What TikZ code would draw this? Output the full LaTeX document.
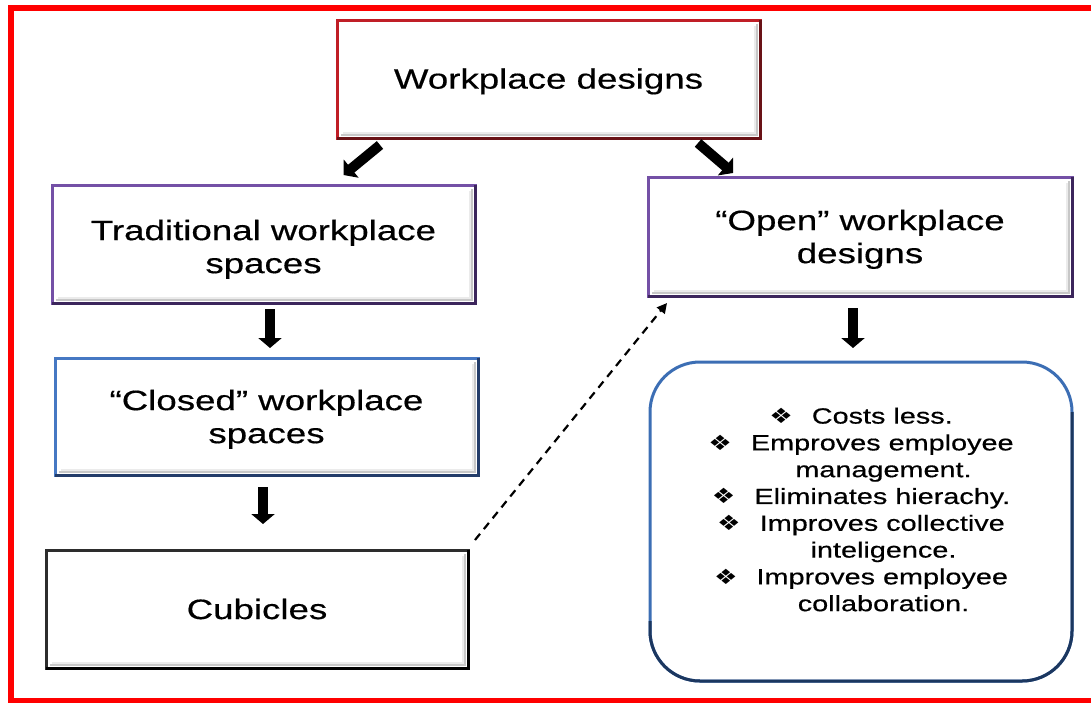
\documentclass[tikz,border=0pt]{standalone}
\usepackage{fontspec}
\setmainfont{Liberation Sans}[FakeStretch=1.31, FakeBold=0.5]
\newfontfamily\symfont{DejaVu Sans}[FakeStretch=1.25]
\usetikzlibrary{arrows.meta}

\definecolor{framered}{RGB}{255,0,0}
\definecolor{titlered}{RGB}{192,30,38}
\definecolor{titledark}{RGB}{105,18,22}
\definecolor{boxviolet}{RGB}{116,80,166}
\definecolor{boxvioletdark}{RGB}{60,38,92}
\definecolor{boxblue}{RGB}{70,120,195}
\definecolor{boxbluedark}{RGB}{35,60,105}
\definecolor{boxblack}{RGB}{45,45,45}
\definecolor{roundblue}{RGB}{60,110,180}
\definecolor{rounddark}{RGB}{28,55,95}

% darker right/bottom edge plus a soft inner shade
\newcommand\edgeshade[2]{%
  \draw[#2, line width=3pt] (#1.north east) -- (#1.south east) -- (#1.south west);
  \draw[black!22, line width=2pt] ([shift={(-3,4)}]#1.north east) -- ([shift={(-3,-3)}]#1.south east) -- ([shift={(4,-3)}]#1.south west);
  \draw[black!8, line width=2pt] ([shift={(-5,6)}]#1.north east) -- ([shift={(-5,-5)}]#1.south east) -- ([shift={(6,-5)}]#1.south west);
}
% invisible strut that lowers a box's text a little
\newcommand\topstrut[1]{\rule{0pt}{#1pt}}
\newcommand\bul{{\symfont\fontsize{21}{21}\selectfont ❖}\hspace{19pt}}

\tikzset{
  box/.style={draw, line width=3pt, fill=white, inner sep=0pt, outer sep=0pt,
    align=center, font=\fontsize{28}{33}\selectfont},
  blockarrow/.style={line width=10pt, -{Triangle[width=23pt,length=10pt]}},
  linkarrow/.style={line width=2.2pt, dash pattern=on 8pt off 6pt, -{Triangle[width=10pt,length=10pt]}},
}

\begin{document}
\begin{tikzpicture}[x=1pt, y=-1pt]
\useasboundingbox (0,0) rectangle (1091,702);

% outer frame
\draw[framered, line width=6pt] (11,8) rectangle (1110,700.5);

% boxes
\node[box, draw=titlered, minimum width=423pt, minimum height=118pt] (title) at (548.5,79) {\topstrut{25}Workplace designs};
\node[box, draw=boxviolet, minimum width=423pt, minimum height=118pt] (trad) at (263.5,244) {\topstrut{31}Traditional workplace\\spaces};
\node[box, draw=boxviolet, minimum width=424pt, minimum height=119pt] (open) at (860,236.5) {\topstrut{26}“Open” workplace\\designs};
\node[box, draw=boxblue, minimum width=423pt, minimum height=117pt] (closed) at (266.5,416.5) {\topstrut{26}“Closed” workplace\\spaces};
\node[box, draw=boxblack, minimum width=422pt, minimum height=118pt] (cub) at (257,609) {Cubicles};
\node[box, draw=roundblue, rounded corners=50pt, minimum width=422pt, minimum height=319pt] (benefits) at (861,521.5) {};

\edgeshade{title}{titledark}
\edgeshade{trad}{boxvioletdark}
\edgeshade{open}{boxvioletdark}
\edgeshade{closed}{boxbluedark}
\edgeshade{cub}{black}
\draw[rounddark, line width=3pt, rounded corners=50pt]
  ([shift={(0,50)}]benefits.north east) -- (benefits.south east) -- (benefits.south west) -- ([shift={(0,-60)}]benefits.south west);

% list of benefits
\node[align=center, inner sep=0pt, font=\fontsize{22}{26.8}\selectfont] (benefitlist) at ([yshift=12pt]benefits.center) {%
\bul Costs less.\\
\bul Emproves employee\\
\hspace*{45pt}management.\\
\bul Eliminates hierachy.\\
\bul Improves collective\\
\hspace*{45pt}inteligence.\\
\bul Improves employee\\
\hspace*{45pt}collaboration.};

% connectors
\draw[blockarrow] ([shift={(43,7)}]title.south west) -- ([shift={(80,-10)}]trad.north);
\draw[blockarrow] ([shift={(-62,5)}]title.south east) -- ([shift={(-127,-4)}]open.north);
\draw[blockarrow] ([shift={(6.5,6)}]trad.south) -- ([shift={(3.5,-10)}]closed.north);
\draw[blockarrow] ([shift={(-3.5,12)}]closed.south) -- ([shift={(6,-26)}]cub.north);
\draw[blockarrow] ([shift={(-7,12)}]open.south) -- ([shift={(-8,-14)}]benefits.north);
\draw[linkarrow] ([shift={(7,-10)}]cub.north east) -- ([shift={(19,7)}]open.south west);
\end{tikzpicture}
\end{document}
